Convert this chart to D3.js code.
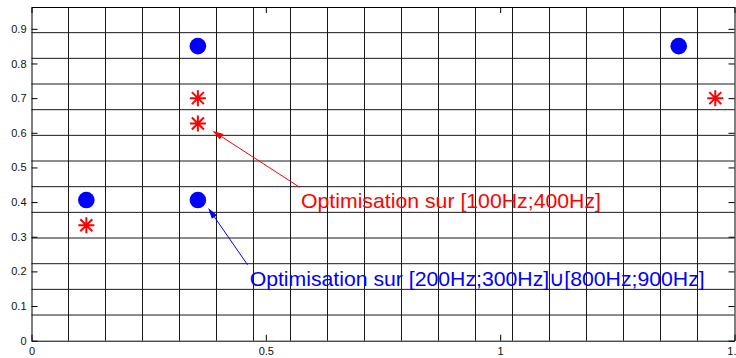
<!DOCTYPE html>
<html>
<head>
<meta charset="utf-8">
<script src="https://cdn.jsdelivr.net/npm/d3@7"></script>
<style>
  html, body { margin: 0; padding: 0; background: #fff; }
  svg { display: block; }
  text { font-family: "Liberation Sans", Arial, Helvetica, sans-serif; }
</style>
</head>
<body>
<svg id="chart" width="736" height="358"></svg>
<script>
// Optimisation results, two frequency bands
const blueX = [0.117, 0.355, 0.355, 1.381];
const blueY = [0.406, 0.406, 0.850, 0.850];
const redX = [0.117, 0.355, 0.355, 1.459];
const redY = [0.333, 0.700, 0.627, 0.700];

const xTicks = [0, 0.5, 1, 1.5];
const xTickLabels = ["0", "0.5", "1", "1.5"];
const yTicks = [0, 0.1, 0.2, 0.3, 0.4, 0.5, 0.6, 0.7, 0.8, 0.9];
const yTickLabels = ["0", "0.1", "0.2", "0.3", "0.4", "0.5", "0.6", "0.7", "0.8", "0.9"];

// Annotation arrows: [fromX, fromY, toX, toY] in data units
const redArrow = [0.572, 0.443, 0.386, 0.606];
const blueArrow = [0.461, 0.219, 0.377, 0.383];
const redLabel = "Optimisation sur [100Hz;400Hz]";
const blueLabel = "Optimisation sur [200Hz;300Hz]\u222A[800Hz;900Hz]";
const redLabelPos = [0.575, 0.382];
const blueLabelPos = [0.4655, 0.158];

const xMax = 1.5, yMax = 0.963;
const gridCols = 19, gridRows = 13;

const svg = d3.select("#chart");
const x = d3.scaleLinear().domain([0, xMax]).range([31.5, 734.5]);
const y = d3.scaleLinear().domain([0, yMax]).range([340.7, 7]);

// Overlay grid
const grid = svg.append("g").attr("stroke", "#1a1a1a").attr("stroke-width", 1);
grid.selectAll("line.v").data(d3.range(1, gridCols)).join("line")
  .attr("class", "v")
  .attr("x1", d => x(d * xMax / gridCols)).attr("x2", d => x(d * xMax / gridCols))
  .attr("y1", y(0)).attr("y2", y(yMax));
grid.selectAll("line.h").data(d3.range(1, gridRows)).join("line")
  .attr("class", "h")
  .attr("y1", d => y(d * yMax / gridRows)).attr("y2", d => y(d * yMax / gridRows))
  .attr("x1", x(0)).attr("x2", x(xMax));

// Axes box with inward ticks
const axL = d3.axisLeft(y).tickValues(yTicks).tickFormat((d, i) => yTickLabels[i]).tickSizeInner(-6).tickSizeOuter(0).tickPadding(5);
const axR = d3.axisRight(y).tickValues(yTicks).tickFormat("").tickSizeInner(-6).tickSizeOuter(0);
const axB = d3.axisBottom(x).tickValues(xTicks).tickFormat((d, i) => xTickLabels[i]).tickSizeInner(-6).tickSizeOuter(0).tickPadding(7);
const axT = d3.axisTop(x).tickValues(xTicks).tickFormat("").tickSizeInner(-6).tickSizeOuter(0);

function styleAxis(g) {
  g.selectAll("path.domain").attr("stroke", "#000").attr("stroke-width", 1);
  g.selectAll(".tick line").attr("stroke", "#000");
  g.selectAll("text").attr("font-size", 11).attr("fill", "#111")
    .style("font-family", '"Liberation Sans", Arial, sans-serif');
}
svg.append("g").attr("transform", `translate(${x(0)},0)`).call(axL).call(styleAxis);
svg.append("g").attr("transform", `translate(${x(xMax)},0)`).call(axR).call(styleAxis);
svg.append("g").attr("transform", `translate(0,${y(0)})`).call(axB).call(styleAxis);
svg.append("g").attr("transform", `translate(0,${y(yMax)})`).call(axT).call(styleAxis);

// Blue circles
svg.append("g").selectAll("circle").data(d3.range(blueX.length)).join("circle")
  .attr("cx", i => x(blueX[i])).attr("cy", i => y(blueY[i]))
  .attr("r", 8.3).attr("fill", "#0000ff");

// Red asterisks
const r = 8, rd = 6;
const starPath = `M${-r},0H${r}M0,${-r}V${r}M${-rd},${-rd}L${rd},${rd}M${-rd},${rd}L${rd},${-rd}`;
svg.append("g").selectAll("path").data(d3.range(redX.length)).join("path")
  .attr("transform", i => `translate(${x(redX[i])},${y(redY[i])})`)
  .attr("d", starPath).attr("stroke", "#ff0000").attr("stroke-width", 2).attr("fill", "none");

// Arrows
function arrow(a, color) {
  const x1 = x(a[0]), y1 = y(a[1]), x2 = x(a[2]), y2 = y(a[3]);
  const ang = Math.atan2(y2 - y1, x2 - x1);
  const len = 11, half = 3.2;
  const bx = x2 - len * Math.cos(ang), by = y2 - len * Math.sin(ang);
  const g = svg.append("g");
  g.append("line").attr("x1", x1).attr("y1", y1).attr("x2", bx).attr("y2", by)
    .attr("stroke", color).attr("stroke-width", 1);
  const px = -Math.sin(ang) * half, py = Math.cos(ang) * half;
  g.append("path")
    .attr("d", `M${x2},${y2}L${bx + px},${by + py}L${bx - px},${by - py}Z`)
    .attr("fill", color);
}
arrow(redArrow, "#ff0000");
arrow(blueArrow, "#0000ff");

svg.append("text").attr("x", x(redLabelPos[0])).attr("y", y(redLabelPos[1]))
  .attr("font-size", 21).attr("fill", "#ff0000")
  .attr("textLength", 300).attr("lengthAdjust", "spacingAndGlyphs").text(redLabel);
svg.append("text").attr("x", x(blueLabelPos[0])).attr("y", y(blueLabelPos[1]))
  .attr("font-size", 21).attr("fill", "#0000ff")
  .attr("textLength", 455).attr("lengthAdjust", "spacingAndGlyphs").text(blueLabel);
</script>
</body>
</html>
